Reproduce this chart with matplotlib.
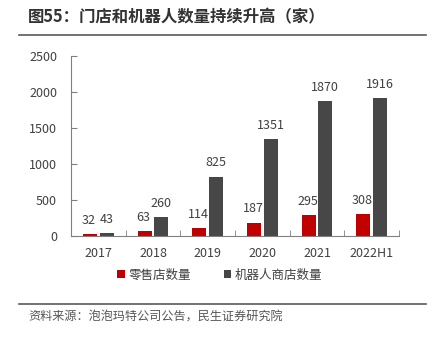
import matplotlib.pyplot as plt
import numpy as np

plt.rcParams['font.family'] = ['Noto Sans CJK SC', 'DejaVu Sans']

years = ['2017', '2018', '2019', '2020', '2021', '2022H1']
retail = [32, 63, 114, 187, 295, 308]
robot = [43, 260, 825, 1351, 1870, 1916]

red = '#C00000'
dark = '#474747'
txt = '#404040'

fig = plt.figure(figsize=(4.33, 3.4), dpi=100)
ax = fig.add_axes([71 / 433, 1 - 236 / 340, 328 / 433, 180 / 340])

x = np.arange(len(years))
w = 0.255
ax.bar(x - 0.15, retail, w, color=red, label='零售店数量')
ax.bar(x + 0.15, robot, w, color=dark, label='机器人商店数量')

for i in range(len(years)):
    ax.text(x[i] - 0.17, retail[i] + 190, str(retail[i]), ha='center', va='center',
            fontsize=9, color=txt)
    ax.text(x[i] + 0.15, robot[i] + 190, str(robot[i]), ha='center', va='center',
            fontsize=9, color=txt)

ax.set_xlim(-0.5, len(years) - 0.5)
ax.set_ylim(0, 2500)
ax.set_yticks([0, 500, 1000, 1500, 2000, 2500])
ax.set_xticks(x)
ax.set_xticklabels(years)
ax.set_xticks(np.arange(-0.5, len(years)), minor=True)
ax.tick_params(axis='x', which='major', length=0, pad=8, labelsize=9, labelcolor=txt)
ax.tick_params(axis='x', which='minor', direction='in', length=4, color='#808080')
ax.tick_params(axis='y', direction='in', length=4, color='#808080', labelsize=9,
               labelcolor=txt, pad=10)
for s in ['top', 'right']:
    ax.spines[s].set_visible(False)
ax.spines['left'].set_color('#808080')
ax.spines['bottom'].set_color('#808080')

fig.legend(loc='center', bbox_to_anchor=(0.508, 1 - 275 / 340), ncol=2, frameon=False,
           fontsize=9, handlelength=0.6, handleheight=0.6, columnspacing=2.6,
           handletextpad=0.3, labelcolor=txt)

fig.text(28 / 433, 1 - 17 / 340, '图55：门店和机器人数量持续升高（家）', fontsize=11.8,
         fontweight='bold', color='#333333', va='center')
fig.add_artist(plt.Line2D([19 / 433, 426 / 433], [1 - 35 / 340] * 2, color='#595959', lw=1.2))
fig.add_artist(plt.Line2D([19 / 433, 426 / 433], [1 - 304 / 340] * 2, color='#595959', lw=1.2))
fig.text(28 / 433, 1 - 317 / 340, '资料来源：泡泡玛特公司公告，民生证券研究院', fontsize=8.7,
         color='#555555', va='center')

fig.savefig('out.png', dpi=100)
